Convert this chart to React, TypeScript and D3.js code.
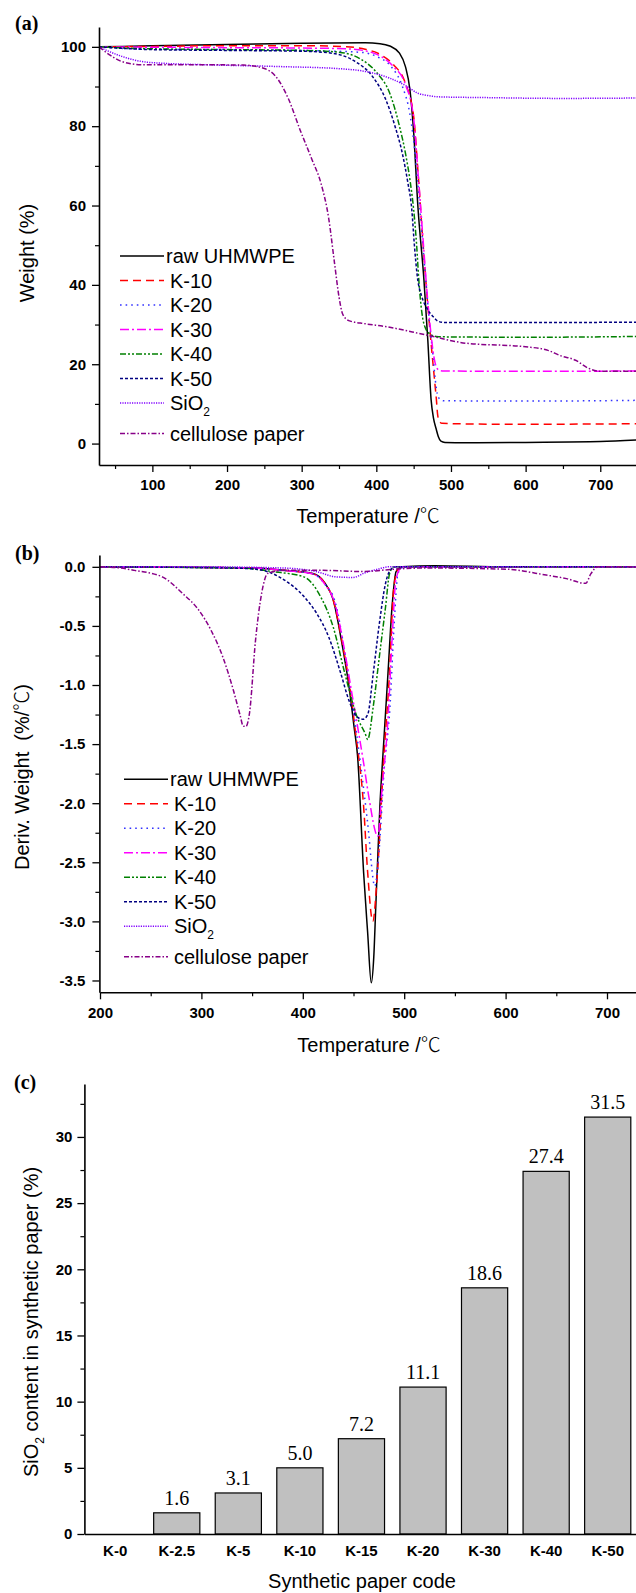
import React, { useEffect, useRef } from "react";
import * as d3 from "d3";

type Pt = [number, number];

// (a) TGA: [temperature (°C), weight (%)]
const tgaRaw: Pt[] = [[28.5,100],[60,100.1],[100,100.3],[200,100.6],[300,100.9],[385,101],[405,100.8],[418,100.2],[431,98.4],[439,95],[445,89.2],[450,78.5],[455.6,60],[463.8,41.2],[469,26],[473.4,11],[476.5,6.5],[480,3.8],[483,1.8],[486.5,0.6],[492,0.3],[520,0.2],[600,0.3],[700,0.5],[750,0.9]];
const tgaK10: Pt[] = [[28.5,100],[100,100.1],[200,100.3],[300,100.3],[360,100],[385,99.4],[406,98],[423,95.5],[439,90.8],[450,82.5],[456,68],[462,52],[468,37],[474,24],[478,16],[480.5,11],[482,7.5],[484,5.8],[488,5.1],[550,4.9],[650,4.9],[750,5.0]];
const tgaK20: Pt[] = [[28.5,100],[60,99.6],[100,99.4],[200,99.3],[300,99.1],[380,98.6],[400,97.6],[420,95],[435,90],[445,83],[452,73],[458,60],[465,44],[471,31],[476,22],[479,16],[481.6,12.6],[485,11.2],[490,10.8],[600,10.7],[750,10.9]];
const tgaK30: Pt[] = [[28.5,100],[100,99.9],[200,99.8],[300,99.7],[360,99.5],[385,99],[406,97.6],[423,95],[439,90.5],[450,82],[456,68],[462,53],[468,38],[473,28],[477,22],[480,19.5],[484,18.5],[490,18.3],[600,18.2],[750,18.3]];
const tgaK40: Pt[] = [[28.5,100],[100,99.5],[200,99.3],[300,99.1],[340,98.8],[363,98.2],[380,96.8],[401,93.4],[418,88.3],[431,80],[439,73.2],[445,66.5],[450,59],[454,50],[457,41],[461,33],[466,29],[472,27.6],[480,27],[491,26.9],[600,26.8],[750,27]];
const tgaK50: Pt[] = [[28.5,100],[100,99.3],[200,99.1],[300,98.9],[340,98.4],[370,96.5],[395,92.5],[412,87],[425,80],[435,73],[442,66],[447.5,59],[451,50],[455,42],[461,37],[468,34],[476,32],[483,30.8],[492,30.5],[600,30.5],[750,30.6]];
const tgaSiO2: Pt[] = [[28.5,100],[40,99],[59,97.6],[86,96.3],[120,95.8],[168,95.5],[276,95],[350,94.5],[385,93.8],[418,92.1],[439.5,90.2],[455.7,88.3],[470,87.7],[483,87.4],[548,87.2],[650,87],[750,87.1]];
const tgaCellulose: Pt[] = [[28.5,100],[42.6,98],[59,96.3],[86,95.5],[150,95.5],[222,95.4],[249,94.6],[265,92.6],[282,87],[298,79],[314,71.5],[326,65.5],[336,57],[344,45.5],[350,37],[355,32.6],[363,31],[385,30.2],[412,29.5],[466,27.4],[520,25.3],[600,24.4],[630,23.5],[646,22.2],[667,21],[684,19],[700,18.2],[750,18.2]];

// (b) DTG: [temperature (°C), deriv. weight (%/°C)]
const dtgRaw: Pt[] = [[200,0],[300,-0.005],[354,-0.01],[381,-0.03],[410,-0.056],[422,-0.14],[430,-0.28],[438,-0.62],[446,-1.04],[450.5,-1.35],[454,-1.6],[460,-2.59],[464,-3.1],[467.5,-3.52],[470,-3.3],[472,-2.87],[476,-2.03],[480,-1.46],[484,-0.9],[488,-0.34],[492,-0.04],[498,0],[530,0.01],[600,0],[750,0]];
const dtgK10: Pt[] = [[200,0],[350,-0.01],[380,-0.03],[410,-0.06],[422,-0.14],[430,-0.28],[438,-0.6],[446,-1.0],[452,-1.4],[460,-2.03],[464,-2.59],[469,-3.0],[473.6,-2.59],[480,-1.6],[485.5,-0.9],[489.5,-0.2],[494,-0.02],[500,0],[750,0]];
const dtgK20: Pt[] = [[200,0],[350,-0.01],[380,-0.03],[410,-0.06],[422,-0.15],[432,-0.3],[440,-0.65],[448,-1.1],[458,-1.74],[464,-2.17],[471,-2.7],[476,-2.31],[480,-1.74],[486,-1.18],[490,-0.5],[494,-0.05],[500,0],[750,0]];
const dtgK30: Pt[] = [[200,0],[350,-0.01],[380,-0.03],[410,-0.06],[422,-0.15],[432,-0.32],[440,-0.65],[448,-1.05],[455,-1.4],[460,-1.66],[465,-1.94],[474,-2.28],[478,-1.89],[484,-1.29],[488,-0.62],[492,-0.1],[498,0],[750,0]];
const dtgK40: Pt[] = [[200,0],[340,-0.01],[370,-0.04],[401,-0.085],[417.4,-0.25],[430,-0.51],[441.4,-0.9],[453.5,-1.27],[461.5,-1.41],[464,-1.46],[469.5,-1.18],[475.5,-0.76],[481.6,-0.34],[485.6,-0.056],[490,0],[750,0]];
const dtgK50: Pt[] = [[200,0],[330,-0.01],[354,-0.02],[381.5,-0.11],[401,-0.25],[413.4,-0.39],[425.4,-0.59],[437.4,-0.9],[445.5,-1.13],[453.5,-1.27],[459.5,-1.29],[464,-1.25],[469.5,-0.9],[475.5,-0.48],[481.6,-0.14],[487,-0.02],[492,0],[750,0]];
const dtgSiO2: Pt[] = [[200,0],[300,0],[380,-0.01],[413,-0.04],[433,-0.085],[449.5,-0.09],[461.5,-0.05],[474,-0.02],[485,0],[750,0]];
const dtgCellulose: Pt[] = [[200,0],[220,-0.01],[233.9,-0.03],[261.4,-0.085],[281.4,-0.225],[297.4,-0.366],[309.4,-0.535],[321,-0.76],[331.4,-1.04],[338,-1.25],[341.4,-1.35],[344,-1.35],[347.4,-1.24],[353.4,-0.62],[359.4,-0.225],[365.4,-0.056],[381.5,-0.03],[420,-0.03],[460,-0.04],[490,-0.02],[520,-0.01],[600,-0.02],[640,-0.07],[660,-0.1],[679,-0.14],[684,-0.06],[691,0],[750,0]];

const seriesNames = ["raw UHMWPE", "K-10", "K-20", "K-30", "K-40", "K-50", "SiO2", "cellulose paper"];
const seriesColors = ["#000000", "#ff0000", "#3333ff", "#ff00ff", "#008000", "#000080", "#8000ff", "#880088"];
const seriesDashes = ["", "8,5", "1.6,4", "9,3,2,3", "6,2,2,2,2,2", "3,2", "1.2,1.2", "5,2,1.5,2"];

const tgaSeries = [tgaRaw, tgaK10, tgaK20, tgaK30, tgaK40, tgaK50, tgaSiO2, tgaCellulose];
const dtgSeries = [dtgRaw, dtgK10, dtgK20, dtgK30, dtgK40, dtgK50, dtgSiO2, dtgCellulose];

// axis ticks
const tgaTempTicks = [100, 200, 300, 400, 500, 600, 700];
const tgaTempMinor = [50, 150, 250, 350, 450, 550, 650, 750];
const tgaWeightTicks = [0, 20, 40, 60, 80, 100];
const tgaWeightMinor = [10, 30, 50, 70, 90];
const dtgTempTicks = [200, 300, 400, 500, 600, 700];
const dtgTempMinor = [250, 350, 450, 550, 650];
const dtgDerivTicks = [0, -0.5, -1.0, -1.5, -2.0, -2.5, -3.0, -3.5];
const dtgDerivMinor = [-0.25, -0.75, -1.25, -1.75, -2.25, -2.75, -3.25];

// (c) SiO2 content
const paperCodes = ["K-0", "K-2.5", "K-5", "K-10", "K-15", "K-20", "K-30", "K-40", "K-50"];
const silicaContent = [0, 1.6, 3.1, 5.0, 7.2, 11.1, 18.6, 27.4, 31.5];
const silicaTicks = [0, 5, 10, 15, 20, 25, 30];
const silicaMinor = [2.5, 7.5, 12.5, 17.5, 22.5, 27.5, 32.5];

const SANS = "'Liberation Sans', Arial, 'Noto Sans CJK SC', sans-serif";
const SERIF = "'Liberation Serif', 'Times New Roman', serif";
const CJK = "'Noto Sans CJK SC', sans-serif";

type Sel = d3.Selection<SVGSVGElement, unknown, null, undefined>;

const styleAxis = (g: any) => {
  g.select(".domain").attr("stroke-width", 1.6).attr("stroke", "#000");
  g.selectAll(".tick line").attr("stroke-width", 1.3).attr("stroke", "#000");
  g.selectAll("text")
    .attr("font-family", SANS)
    .attr("font-size", 15)
    .attr("font-weight", "bold")
    .attr("fill", "#000");
};

const minorAxis = (g: any) => {
  g.select(".domain").remove();
  g.selectAll(".tick line").attr("stroke-width", 1.2).attr("stroke", "#000");
};

const App = () => {
  const ref = useRef<SVGSVGElement>(null);

  useEffect(() => {
    const svg = d3.select(ref.current) as Sel;
    svg.selectAll("*").remove();
    drawPanelA(svg);
    drawPanelB(svg);
    drawPanelC(svg);
  }, []);

  // "Temperature /℃" with the degree sign from the CJK font, like the original
  const tempTitle = (svg: Sel, x: number, y: number) => {
    const t = svg.append("text").attr("x", x).attr("y", y).attr("text-anchor", "middle")
      .attr("font-family", SANS).attr("font-size", 20);
    t.append("tspan").text("Temperature /");
    t.append("tspan").attr("font-family", CJK).attr("font-weight", 300).text("℃");
  };

  const drawLegend = (svg: Sel, lineX0: number, lineX1: number, textX: number, y0: number) => {
    seriesNames.forEach((name, i) => {
      const y = y0 + i * 24.5 + (i >= 7 ? 6 : 0);
      svg.append("line")
        .attr("x1", lineX0).attr("x2", lineX1).attr("y1", y).attr("y2", y)
        .attr("stroke", seriesColors[i]).attr("stroke-width", 1.6)
        .attr("stroke-dasharray", seriesDashes[i]);
      const t = svg.append("text")
        .attr("x", i === 0 ? textX - 4 : textX).attr("y", y + 7)
        .attr("font-family", SANS).attr("font-size", 20);
      if (name === "SiO2") {
        t.append("tspan").text("SiO");
        t.append("tspan").attr("font-size", 12).attr("dy", 6).text("2");
      } else {
        t.text(name);
      }
    });
  };

  const drawLines = (svg: Sel, series: Pt[][], x: any, y: any) => {
    const line = d3.line<Pt>().x(d => x(d[0])).y(d => y(d[1])).curve(d3.curveMonotoneX);
    series.forEach((data, i) => {
      svg.append("path")
        .attr("d", line(data))
        .attr("fill", "none")
        .attr("stroke", seriesColors[i])
        .attr("stroke-width", 1.5)
        .attr("stroke-dasharray", seriesDashes[i]);
    });
  };

  const drawPanelA = (svg: Sel) => {
    const x = d3.scaleLinear().domain([28.5, 750]).range([99, 637.6]);
    const y = d3.scaleLinear().domain([-5.4, 105]).range([465, 27]);

    drawLines(svg, tgaSeries, x, y);

    svg.append("g").attr("transform", "translate(0,465)")
      .call(d3.axisBottom(x).tickValues(tgaTempMinor).tickSize(4).tickSizeOuter(0).tickFormat(() => ""))
      .call(minorAxis);
    svg.append("g").attr("transform", "translate(0,465)")
      .call(d3.axisBottom(x).tickValues(tgaTempTicks).tickSize(7).tickSizeOuter(0).tickPadding(7))
      .call(styleAxis);
    svg.append("g").attr("transform", "translate(99,0)")
      .call(d3.axisLeft(y).tickValues(tgaWeightMinor).tickSize(4).tickSizeOuter(0).tickFormat(() => ""))
      .call(minorAxis);
    svg.append("g").attr("transform", "translate(99,0)")
      .call(d3.axisLeft(y).tickValues(tgaWeightTicks).tickSize(7).tickSizeOuter(0).tickPadding(6))
      .call(styleAxis);

    tempTitle(svg, 368, 523);
    svg.append("text").attr("transform", "translate(34,253) rotate(-90)").attr("text-anchor", "middle")
      .attr("font-family", SANS).attr("font-size", 20).text("Weight (%)");
    svg.append("text").attr("x", 15).attr("y", 30)
      .attr("font-family", SERIF).attr("font-size", 20).attr("font-weight", "bold").text("(a)");

    drawLegend(svg, 120, 164, 170, 256);
  };

  const drawPanelB = (svg: Sel) => {
    const x = d3.scaleLinear().domain([200, 750]).range([100, 657.7]);
    const y = d3.scaleLinear().domain([-3.6, 0.1]).range([992.3, 555]);

    drawLines(svg, dtgSeries, x, y);

    svg.append("g").attr("transform", "translate(0,992.3)")
      .call(d3.axisBottom(x).tickValues(dtgTempMinor).tickSize(4).tickSizeOuter(0).tickFormat(() => ""))
      .call(minorAxis);
    svg.append("g").attr("transform", "translate(0,992.3)")
      .call(d3.axisBottom(x).tickValues(dtgTempTicks).tickSize(7).tickSizeOuter(0).tickPadding(8))
      .call(styleAxis);
    svg.append("g").attr("transform", "translate(99.4,0)")
      .call(d3.axisLeft(y).tickValues(dtgDerivMinor).tickSize(4).tickSizeOuter(0).tickFormat(() => ""))
      .call(minorAxis);
    svg.append("g").attr("transform", "translate(99.4,0)")
      .call(d3.axisLeft(y).tickValues(dtgDerivTicks).tickSize(7).tickSizeOuter(0).tickPadding(7)
        .tickFormat(d => d3.format(".1f")(d as number).replace("−", "-")))
      .call(styleAxis);

    tempTitle(svg, 369, 1052);
    const yt = svg.append("text").attr("transform", "translate(29,777) rotate(-90)").attr("text-anchor", "middle")
      .attr("font-family", SANS).attr("font-size", 20).attr("xml:space", "preserve");
    yt.append("tspan").text("Deriv. Weight  (%/");
    yt.append("tspan").attr("font-family", CJK).attr("font-weight", 300).text("℃");
    yt.append("tspan").text(")");
    svg.append("text").attr("x", 15).attr("y", 560)
      .attr("font-family", SERIF).attr("font-size", 20).attr("font-weight", "bold").text("(b)");

    drawLegend(svg, 124, 168, 174, 779.3);
  };

  const drawPanelC = (svg: Sel) => {
    const x = d3.scaleBand().domain(paperCodes).range([84.4, 638.5]).paddingInner(0.25).paddingOuter(0.125);
    const y = d3.scaleLinear().domain([0, 34]).range([1534, 1084]);

    paperCodes.forEach((code, i) => {
      const v = silicaContent[i];
      if (v <= 0) return;
      svg.append("rect")
        .attr("x", x(code)!).attr("y", y(v))
        .attr("width", x.bandwidth()).attr("height", y(0) - y(v))
        .attr("fill", "#c0c0c0").attr("stroke", "#000").attr("stroke-width", 1.2);
      svg.append("text")
        .attr("x", x(code)! + x.bandwidth() / 2).attr("y", y(v) - 8)
        .attr("text-anchor", "middle").attr("font-family", SERIF).attr("font-size", 20)
        .text(d3.format(".1f")(v));
    });

    svg.append("g").attr("transform", "translate(0,1534)")
      .call(d3.axisBottom(x).tickSize(0).tickSizeOuter(0).tickPadding(11))
      .call(styleAxis);
    svg.append("g").attr("transform", "translate(84.4,0)")
      .call(d3.axisLeft(y).tickValues(silicaMinor).tickSize(4).tickSizeOuter(0).tickFormat(() => ""))
      .call(minorAxis);
    svg.append("g").attr("transform", "translate(84.4,0)")
      .call(d3.axisLeft(y).tickValues(silicaTicks).tickSize(7).tickSizeOuter(0).tickPadding(5))
      .call(styleAxis);

    svg.append("text").attr("x", 362).attr("y", 1588).attr("text-anchor", "middle")
      .attr("font-family", SANS).attr("font-size", 20).text("Synthetic paper code");
    const yt = svg.append("text").attr("transform", "translate(38,1322) rotate(-90)").attr("text-anchor", "middle")
      .attr("font-family", SANS).attr("font-size", 20);
    yt.append("tspan").text("SiO");
    yt.append("tspan").attr("font-size", 12).attr("dy", 6).text("2");
    yt.append("tspan").attr("dy", -6).text(" content in synthetic paper (%)");
    svg.append("text").attr("x", 14).attr("y", 1089)
      .attr("font-family", SERIF).attr("font-size", 20).attr("font-weight", "bold").text("(c)");
  };

  return (
    <svg ref={ref} width={636} height={1593}
      style={{ position: "absolute", left: 0, top: 0, background: "#fff" }} />
  );
};

export default App;
